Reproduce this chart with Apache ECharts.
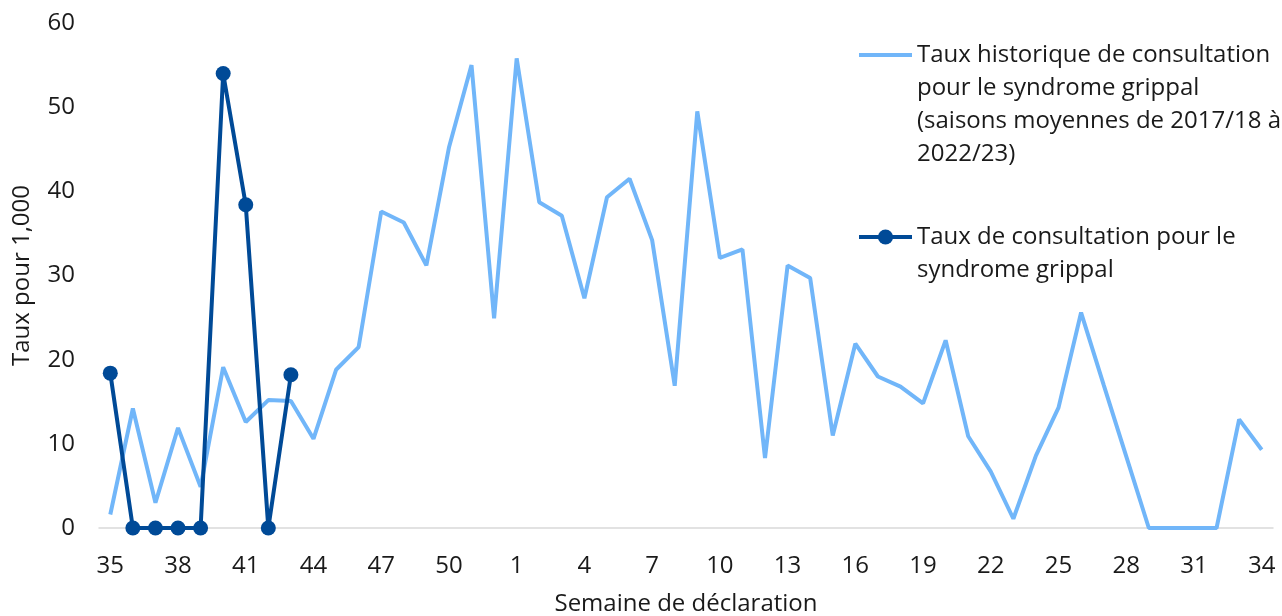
<!DOCTYPE html>
<html>
<head>
<meta charset="utf-8">
<script src="https://cdn.jsdelivr.net/npm/echarts@6/dist/echarts.min.js"></script>
<style>
html,body{margin:0;padding:0;background:#fff;}
#chart{width:1282px;height:616px;}
</style>
</head>
<body>
<div id="chart"></div>
<script>
var weeks = [35,36,37,38,39,40,41,42,43,44,45,46,47,48,49,50,51,52,
  1,2,3,4,5,6,7,8,9,10,11,12,13,14,15,16,17,18,19,20,21,22,23,24,25,26,27,28,29,30,31,32,33,34];

var historique = [1.6,14.2,3.0,11.9,4.9,19.1,12.6,15.2,15.1,10.6,18.8,21.5,37.6,36.3,31.2,45.2,55.0,24.9,
  55.8,38.7,37.1,27.3,39.3,41.5,34.2,16.9,49.5,32.1,33.1,8.3,31.2,29.7,11.0,21.9,18.0,16.8,14.8,22.3,10.9,6.7,1.1,8.6,14.3,25.6,17.0,8.5,0,0,0,0,12.9,9.3];

var actuel = [18.4,0,0,0,0,54.0,38.4,0,18.2];

var yTicks = {min:0, max:60, interval:10};

var nomHistorique = 'Taux historique de consultation pour le syndrome grippal (saisons moyennes de 2017/18 à 2022/23)';
var nomActuel = 'Taux de consultation pour le syndrome grippal';
var lignesHistorique = ['Taux historique de consultation', 'pour le syndrome grippal', '(saisons moyennes de 2017/18 à', '2022/23)'];
var lignesActuel = ['Taux de consultation pour le', 'syndrome grippal'];

var FONT = '"Open Sans", "Noto Sans", sans-serif';
var TXT = '#1a1a1a';
var chart = echarts.init(document.getElementById('chart'), null, {renderer:'canvas'});

function richLines(lines){
  return lines.map(function(l){ return '{t|' + l + '}'; }).join('\n');
}

chart.setOption({
  animation:false,
  backgroundColor:'#ffffff',
  textStyle:{fontFamily:FONT},
  grid:{left:99, right:9, top:23, bottom:88, outerBoundsMode:'none', containLabel:false},
  legend:{
    orient:'vertical',
    left:857,
    top:-60.5,
    padding:0,
    itemGap:17,
    itemWidth:53,
    itemHeight:19,
    lineStyle:{width:4},
    textStyle:{
      fontFamily:FONT, fontSize:24, color:TXT, lineHeight:33,
      rich:{t:{fontFamily:FONT, fontSize:24, color:TXT, lineHeight:33}}
    },
    formatter:function(name){ return richLines(name === nomHistorique ? lignesHistorique : lignesActuel); },
    data:[
      {name:nomHistorique, itemStyle:{color:'rgba(0,0,0,0)', borderWidth:0}, textStyle:{padding:[99,0,0,0]}},
      {name:nomActuel, textStyle:{padding:[33,0,0,0]}}
    ]
  },
  xAxis:{
    type:'category',
    data:weeks,
    boundaryGap:true,
    name:'Semaine de déclaration',
    nameLocation:'middle',
    nameGap:64,
    nameTextStyle:{fontFamily:FONT, fontSize:24, color:TXT},
    axisLine:{show:true, lineStyle:{color:'#d9d9d9', width:1.5}},
    axisTick:{show:false},
    axisLabel:{interval:2, margin:26, fontFamily:FONT, fontSize:24, color:TXT},
    splitLine:{show:false}
  },
  yAxis:{
    type:'value',
    min:yTicks.min, max:yTicks.max, interval:yTicks.interval,
    name:'Taux pour 1,000',
    nameLocation:'middle',
    nameGap:65,
    nameTextStyle:{fontFamily:FONT, fontSize:24, color:TXT},
    axisLine:{show:false},
    axisTick:{show:false},
    axisLabel:{margin:24, fontFamily:FONT, fontSize:24, color:TXT},
    splitLine:{show:false}
  },
  series:[
    {
      name:nomHistorique,
      type:'line',
      data:historique,
      symbol:'none',
      lineStyle:{color:'#71b6f9', width:4},
      itemStyle:{color:'#71b6f9'},
      z:2
    },
    {
      name:nomActuel,
      type:'line',
      data:actuel,
      symbol:'circle',
      symbolSize:15,
      showAllSymbol:true,
      lineStyle:{color:'#004a97', width:4},
      itemStyle:{color:'#004a97'},
      z:3
    }
  ]
});
</script>
</body>
</html>
